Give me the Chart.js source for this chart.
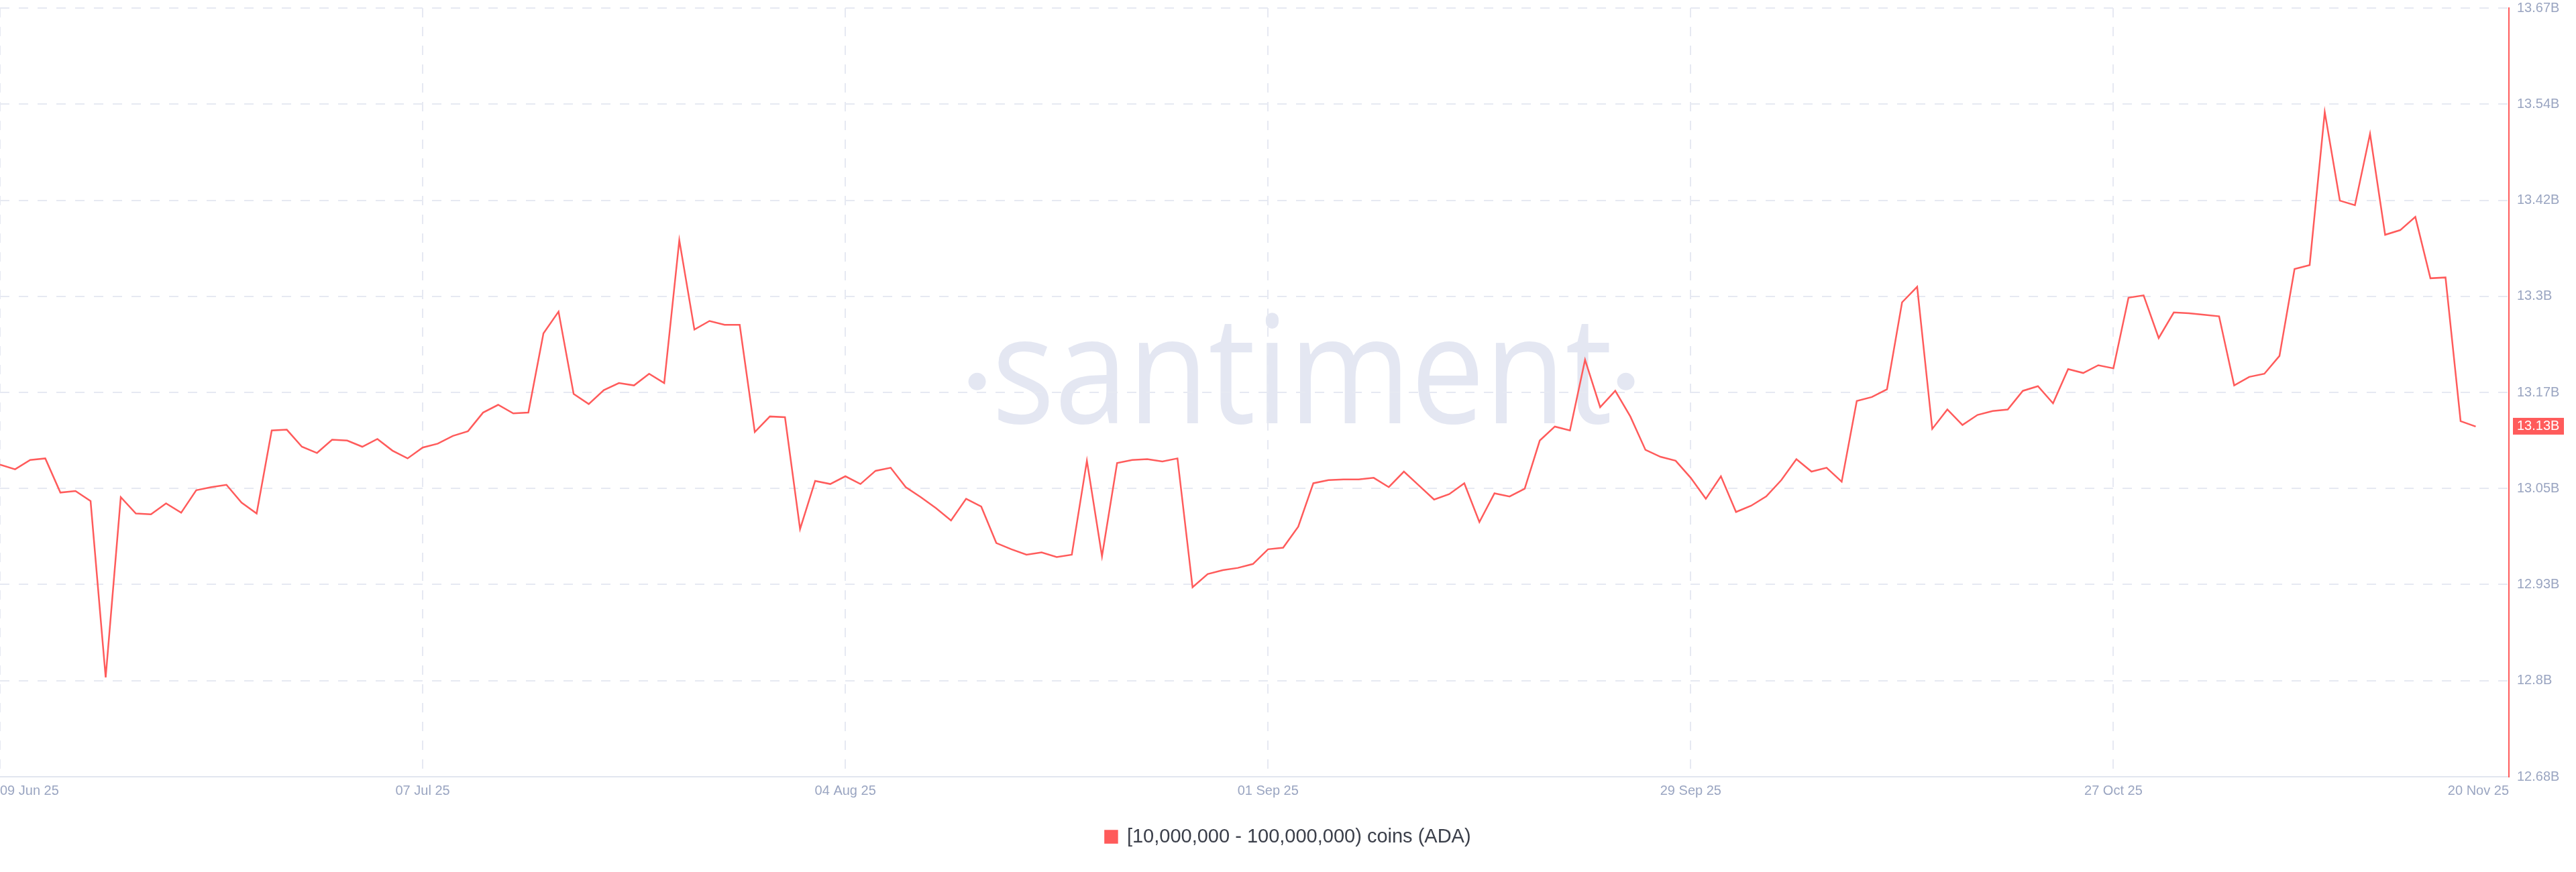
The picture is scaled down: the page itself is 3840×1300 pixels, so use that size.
<!DOCTYPE html>
<html>
<head>
<meta charset="utf-8">
<title>ADA supply held by 10M-100M addresses</title>
<script src="https://cdn.jsdelivr.net/npm/chart.js@4.4.1/dist/chart.umd.min.js"></script>
<style>
  html, body { margin: 0; padding: 0; background: #fff; }
  canvas { display: block; }
</style>
</head>
<body>
<canvas id="chart" width="3840" height="1300"></canvas>
<script>
// daily values, 09 Jun 25 .. 20 Nov 25, in billions of ADA
const seriesLabel = "[10,000,000 - 100,000,000) coins (ADA)";
const balances = [
  13.082, 13.076, 13.088, 13.090, 13.046, 13.048, 13.035, 12.808, 13.040, 13.019,
  13.018, 13.032, 13.020, 13.049, 13.053, 13.056, 13.033, 13.019, 13.126, 13.127,
  13.105, 13.097, 13.114, 13.113, 13.105, 13.115, 13.100, 13.090, 13.104, 13.109,
  13.119, 13.125, 13.149, 13.159, 13.148, 13.149, 13.251, 13.279, 13.173, 13.160,
  13.178, 13.187, 13.184, 13.199, 13.187, 13.371, 13.256, 13.267, 13.262, 13.262,
  13.124, 13.144, 13.143, 12.999, 13.061, 13.057, 13.067, 13.057, 13.074, 13.078,
  13.053, 13.040, 13.026, 13.010, 13.038, 13.028, 12.981, 12.973, 12.966, 12.969,
  12.963, 12.966, 13.087, 12.964, 13.084, 13.088, 13.089, 13.086, 13.090, 12.924,
  12.941, 12.946, 12.949, 12.954, 12.973, 12.975, 13.002, 13.058, 13.062, 13.063,
  13.063, 13.065, 13.053, 13.073, 13.055, 13.037, 13.044, 13.058, 13.008, 13.045,
  13.041, 13.051, 13.113, 13.131, 13.126, 13.217, 13.156, 13.177, 13.144, 13.101,
  13.092, 13.087, 13.065, 13.038, 13.067, 13.021, 13.029, 13.041, 13.062, 13.089,
  13.073, 13.078, 13.060, 13.164, 13.169, 13.179, 13.291, 13.311, 13.128, 13.153,
  13.133, 13.146, 13.151, 13.153, 13.177, 13.183, 13.161, 13.205, 13.200, 13.210,
  13.206, 13.297, 13.300, 13.245, 13.278, 13.277, 13.275, 13.273, 13.184, 13.195,
  13.199, 13.222, 13.334, 13.339, 13.536, 13.422, 13.416, 13.508, 13.378, 13.384,
  13.401, 13.322, 13.323, 13.138, 13.131
];

const xTickLabels = ["09 Jun 25", "07 Jul 25", "04 Aug 25", "01 Sep 25", "29 Sep 25", "27 Oct 25", "20 Nov 25"];
const xTickDays = [0, 28, 56, 84, 112, 140, 164];
const yTickLabels = ["12.68B", "12.8B", "12.93B", "13.05B", "13.17B", "13.3B", "13.42B", "13.54B", "13.67B"];
const yMin = 12.68;
const yMax = 13.67;

const RED = "#ff5b5b";
const GRID = "#e6e9f2";
const TICK = "#9aa5c1";
const FONT = "'Liberation Sans', Arial, sans-serif";

const lastIdx = balances.length - 1;
const points = balances.map((v, i) => ({ x: i, y: v }));

// big faint "·santiment·" behind the plot
const watermark = {
  id: "watermark",
  beforeDraw(chart) {
    const { ctx, chartArea: a } = chart;
    const cx = a.left + (a.right - a.left) * 0.519;
    const base = a.top + (a.bottom - a.top) * 0.54;
    ctx.save();
    ctx.fillStyle = "#e4e7f2";
    ctx.font = "500 224px 'Open Sans'";
    const text = "santiment";
    const w = ctx.measureText(text).width;
    const target = 925;
    ctx.translate(cx, base);
    ctx.scale(target / w, 1);
    ctx.textAlign = "center";
    ctx.textBaseline = "alphabetic";
    ctx.fillText(text, 0, 0);
    ctx.restore();
    ctx.save();
    ctx.fillStyle = "#e4e7f2";
    [cx - target / 2 - 22, cx + target / 2 + 20].forEach((x) => {
      ctx.beginPath();
      ctx.arc(x, base - 62, 13, 0, Math.PI * 2);
      ctx.fill();
    });
    ctx.restore();
  },
};

// red badge with the latest value on the right axis
const lastBadge = {
  id: "lastBadge",
  afterDraw(chart) {
    const { ctx, chartArea: a, scales } = chart;
    const v = balances[lastIdx];
    const y = scales.y.getPixelForValue(v);
    ctx.save();
    ctx.fillStyle = RED;
    ctx.fillRect(a.right + 6, y - 13, 76, 25);
    ctx.fillStyle = "#ffffff";
    ctx.font = "20px " + FONT;
    ctx.textAlign = "left";
    ctx.textBaseline = "middle";
    ctx.fillText(v.toFixed(2) + "B", a.right + 12, y);
    ctx.restore();
  },
};

new Chart(document.getElementById("chart"), {
  type: "line",
  data: {
    datasets: [
      {
        label: seriesLabel,
        data: points,
        borderColor: RED,
        backgroundColor: RED,
        borderWidth: 2.5,
        pointRadius: 0,
        tension: 0,
        fill: false,
      },
    ],
  },
  options: {
    responsive: false,
    animation: false,
    layout: { padding: { top: 0, right: 0, bottom: 28, left: 0 } },
    plugins: {
      legend: {
        position: "bottom",
        labels: {
          boxWidth: 18,
          boxHeight: 18,
          padding: 10,
          color: "#3b3f4a",
          font: { size: 29, family: FONT },
        },
      },
      tooltip: { enabled: false },
    },
    scales: {
      x: {
        type: "linear",
        min: 0,
        max: lastIdx + 2.2,
        afterBuildTicks: (scale) => {
          scale.ticks = xTickDays.map((d, i) => ({
            value: i === xTickDays.length - 1 ? scale.max : d,
          }));
        },
        afterFit: (scale) => {
          scale.height = 65;
          scale.paddingLeft = 0;
          scale.paddingRight = 0;
        },
        ticks: {
          autoSkip: false,
          maxRotation: 0,
          align: "inner",
          padding: 9,
          color: TICK,
          font: { size: 20, family: FONT },
          callback: (v, i) => xTickLabels[i],
        },
        grid: {
          drawTicks: false,
          lineWidth: 2,
          color: (c) => (c.index === xTickLabels.length - 1 ? "transparent" : GRID),
        },
        border: { display: true, color: "#e2e6ef", width: 2, dash: [14, 14] },
      },
      y: {
        position: "right",
        min: yMin,
        max: yMax,
        afterBuildTicks: (scale) => {
          scale.ticks = yTickLabels.map((_, i) => ({
            value: yMin + (i * (yMax - yMin)) / (yTickLabels.length - 1),
          }));
        },
        afterFit: (scale) => {
          scale.width = 100;
          scale.paddingTop = 12;
          scale.paddingBottom = 0;
        },
        ticks: {
          padding: 12,
          color: TICK,
          font: { size: 20, family: FONT },
          callback: (v, i) => yTickLabels[i],
        },
        grid: { drawTicks: false, lineWidth: 2, color: GRID },
        border: { display: true, color: RED, width: 2, dash: [14, 14] },
      },
    },
  },
  plugins: [watermark, lastBadge],
});
</script>
</body>
</html>
